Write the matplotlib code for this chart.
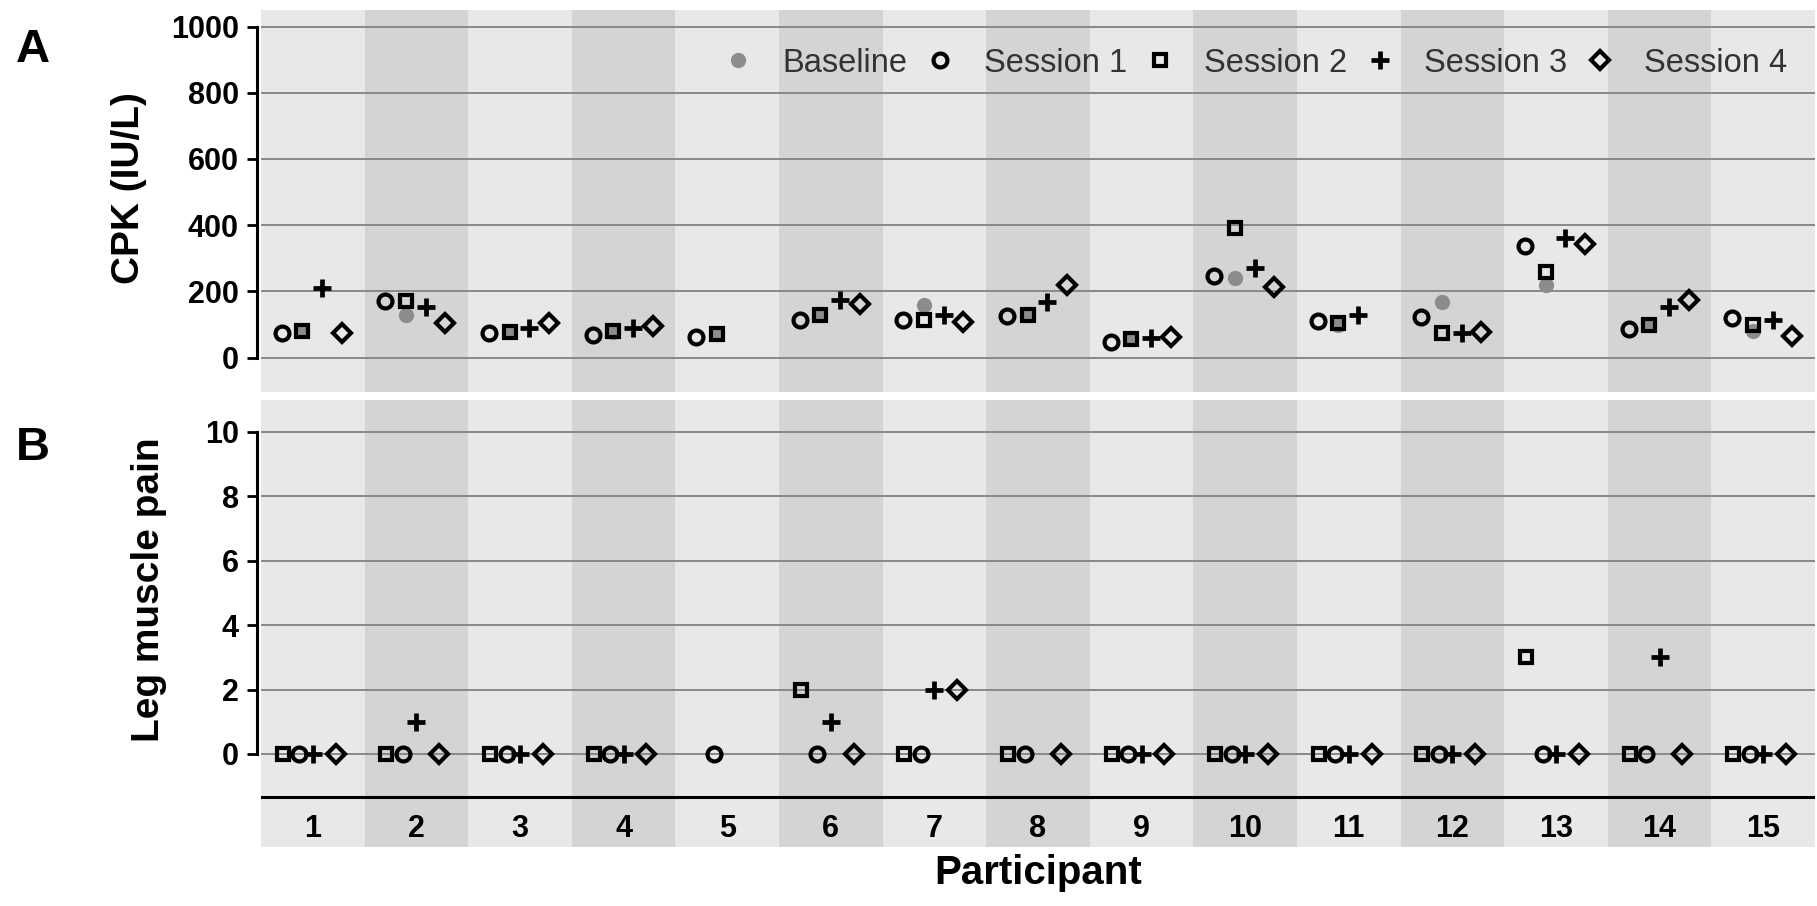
import matplotlib
matplotlib.use('Agg')
import matplotlib.pyplot as plt
import numpy as np

plt.rcParams['font.family'] = ['Liberation Sans', 'DejaVu Sans']

# ---------------- data ----------------
participants = list(range(1, 16))
x_labels = [str(p) for p in participants]
series_names = ['Baseline', 'Session 1', 'Session 2', 'Session 3', 'Session 4']
nan = np.nan

# Panel A: CPK (IU/L)
cpk_baseline = [80, 129, 78, 78, 72, 128, 159, 129, 55, 240, 99, 169, 218, 99, 79]
cpk_s1 = [74, 170, 74, 68, 62, 114, 114, 126, 48, 245, 109, 124, 336, 86, 119]
cpk_s2 = [79, 170, 78, 79, 72, 129, 114, 129, 55, 391, 104, 74, 259, 99, 99]
cpk_s3 = [210, 154, 88, 90, nan, 174, 129, 169, 58, 270, 129, 74, 362, 154, 114]
cpk_s4 = [74, 104, 104, 95, nan, 162, 106, 219, 61, 214, nan, 76, 343, 174, 64]

# Panel B: leg muscle pain
pain_s1 = [0, 0, 0, 0, 0, 0, 0, 0, 0, 0, 0, 0, 0, 0, 0]
pain_s2 = [0, 0, 0, 0, nan, 2, 0, 0, 0, 0, 0, 0, 3, 0, 0]
pain_s3 = [0, 1, 0, 0, nan, 1, 2, nan, 0, 0, 0, 0, 0, 3, 0]
pain_s4 = [0, 0, 0, 0, nan, 0, 2, 0, 0, 0, 0, 0, 0, 0, 0]

cpk_ticks = [0, 200, 400, 600, 800, 1000]
pain_ticks = [0, 2, 4, 6, 8, 10]

# ---------------- style ----------------
W, H = 1817, 906
LIGHT = '#e8e8e8'
DARK = '#d4d4d4'
GRID = '#888888'
GRAYDOT = '#8c8c8c'

styles = {
    'Baseline': dict(marker='o', ms=11, mfc=GRAYDOT, mec=GRAYDOT, mew=0),
    'Session 1': dict(marker='o', ms=10, mfc='none', mec='black', mew=3.0),
    'Session 2': dict(marker='s', ms=9, mfc='none', mec='black', mew=3.0),
    'Session 3': dict(marker='+', ms=13, mfc='none', mec='black', mew=3.4),
    'Session 4': dict(marker='D', ms=9, mfc='none', mec='black', mew=3.0),
}
offsets_A = {'Baseline': -0.10, 'Session 1': -0.30, 'Session 2': -0.10,
             'Session 3': 0.09, 'Session 4': 0.28}
offsets_B = {'Session 1': -0.13, 'Session 2': -0.29, 'Session 3': 0.0,
             'Session 4': 0.22}


def rect(x0, y0, x1, y1):
    return [x0 / W, 1 - y1 / H, (x1 - x0) / W, (y1 - y0) / H]


fig = plt.figure(figsize=(W / 100, H / 100), dpi=100)
axA = fig.add_axes(rect(261, 10, 1815, 392))
axB = fig.add_axes(rect(261, 400, 1815, 847))


def base_axes(ax, ticks, ylim):
    for i in participants:
        ax.axvspan(i - 0.5, i + 0.5, color=LIGHT if i % 2 else DARK, lw=0, zorder=0)
    ax.set_xlim(0.5, 15.5)
    ax.set_ylim(*ylim)
    ax.set_yticks(ticks)
    ax.yaxis.grid(True, color=GRID, lw=1.4)
    ax.set_axisbelow(True)
    for s in ['top', 'right', 'bottom']:
        ax.spines[s].set_visible(False)
    ax.spines['left'].set_bounds(ticks[0], ticks[-1])
    ax.spines['left'].set_position(('outward', 3))
    ax.spines['left'].set_linewidth(2.2)
    ax.set_xticks([])
    ax.tick_params(axis='y', length=7, width=2.0, labelsize=22, pad=6)
    for lbl in ax.get_yticklabels():
        lbl.set_fontweight('bold')


base_axes(axA, cpk_ticks, (-104, 1050))
base_axes(axB, pain_ticks, (-2.89, 10.99))

x = np.array(participants, dtype=float)
cpk_series = [cpk_baseline, cpk_s1, cpk_s2, cpk_s3, cpk_s4]
handles = []
for name, vals in zip(series_names, cpk_series):
    h, = axA.plot(x + offsets_A[name], vals, ls='none', zorder=3, clip_on=False,
                  label=name, **styles[name])
    handles.append(h)

pain_series = [pain_s1, pain_s2, pain_s3, pain_s4]
for name, vals in zip(series_names[1:], pain_series):
    axB.plot(x + offsets_B[name], vals, ls='none', zorder=3, clip_on=False,
             **styles[name])

# x axis line and participant labels in panel B
axB.axhline(-1.335, color='black', lw=2.2, zorder=2)
for p, lab in zip(participants, x_labels):
    axB.text(p, -2.33, lab, ha='center', va='center', fontsize=22, fontweight='bold')

axB.set_xlabel('Participant', fontsize=29, fontweight='bold')
axB.xaxis.set_label_coords(0.5, -0.016)

axA.set_ylabel('CPK (IU/L)', fontsize=28, fontweight='bold')
axA.yaxis.set_label_coords(-0.0734, 0.534)
axB.set_ylabel('Leg muscle pain', fontsize=28, fontweight='bold')
axB.yaxis.set_label_coords(-0.0605, 0.575)

leg = axA.legend(handles=handles, ncol=5, frameon=False, fontsize=23.5,
                 handlelength=1.0, handletextpad=0.85, columnspacing=0.5,
                 loc='center right', bbox_to_anchor=(0.982, 0.861),
                 borderaxespad=0, borderpad=0, labelcolor='#333333')

fig.text(33 / W, 1 - 50 / H, 'A', fontsize=34, fontweight='bold', ha='center', va='center')
fig.text(33 / W, 1 - 448 / H, 'B', fontsize=34, fontweight='bold', ha='center', va='center')

fig.savefig('out.png', dpi=100, facecolor='white')
